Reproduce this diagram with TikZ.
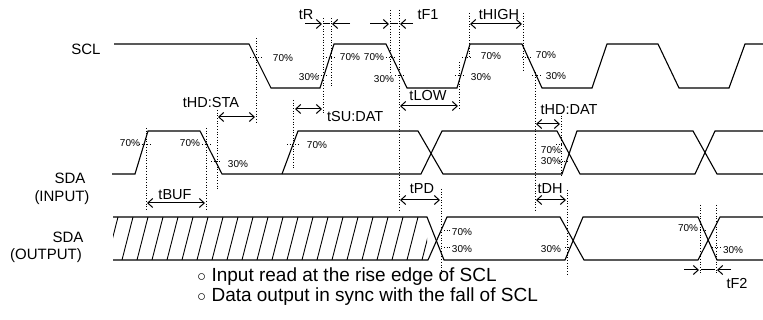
\documentclass[tikz,border=0pt]{standalone}
\usepackage{fontspec}
\setmainfont{Liberation Sans}
\usetikzlibrary{arrows.meta}
\begin{document}
\begin{tikzpicture}[x=1pt,y=-1pt,
  sig/.style={line width=1.1pt, line join=miter},
  guide/.style={dotted, line width=0.7pt},
  tickln/.style={dotted, line width=0.7pt},
  barb/.tip={Straight Barb[length=5pt,width=9pt,line width=1pt]},
  meas/.style={line width=1pt, barb-barb},
  onearr/.style={line width=1pt, -barb},
  lbl/.style={inner sep=0pt, font=\fontsize{14.5}{14.5}\selectfont},
  side/.style={inner sep=0pt, font=\fontsize{15}{15}\selectfont},
  pct/.style={inner sep=0pt, font=\fontsize{10}{10}\selectfont},
  foot/.style={inner sep=0pt, anchor=west, font=\fontsize{19}{19}\selectfont}
]
\useasboundingbox (0,0) rectangle (763,320);

% ---------- side labels ----------
\node[side] (lscl) at (86,49) {SCL};
\node[side] (lsdai) at (70,178) {SDA};
\node[side] (lsdain) at (62,198) {(INPUT)};
\node[side] (lsdao) at (68,237) {SDA};
\node[side] (lsdaon) at (46,256) {(OUTPUT)};

% ---------- SCL ----------
\draw[sig] (114,44) -- (249,44) -- (271,88) -- (320,88) -- (334,44) -- (386,44) -- (407,88)
  -- (457,88) -- (470,44) -- (522,44) -- (542,88) -- (592,88) -- (607,44) -- (658,44)
  -- (679,88) -- (729,88) -- (745,44) -- (763,44);

% ---------- SDA input ----------
\draw[sig] (112,174) -- (135,174) -- (148,131) -- (200,131) -- (222,174) -- (421,174)
  -- (442,131) -- (557,131) -- (580,174) -- (695,174) -- (715,131) -- (763,131);
\draw[sig] (282,174) -- (298,131) -- (418,131) -- (443,174) -- (562,174) -- (577,131)
  -- (693,131) -- (717,174) -- (763,174);

% ---------- SDA output ----------
\draw[sig] (113,217) -- (427,217) -- (444,260) -- (565,260) -- (583,217) -- (698,217)
  -- (717,260) -- (763,260);
\draw[sig] (113,260) -- (428,260) -- (447,217) -- (560,217) -- (584,260) -- (698,260)
  -- (720,217) -- (763,217);
\begin{scope}
  \clip (113,217) rectangle (427,260);
  \foreach \k in {0,...,21} {
    \draw[line width=0.9pt] ({107+15*\k},260) -- ({118+15*\k},217);
  }
\end{scope}

% ---------- vertical guides ----------
\draw[guide] (146,128) -- (146,210);
\draw[guide] (206,128) -- (206,210);
\draw[guide] (217,110) -- (217,190);
\draw[guide] (256,38) -- (256,123);
\draw[guide] (293,100) -- (293,168);
\draw[guide] (323,18) -- (323,113);
\draw[guide] (331,18) -- (331,88);
\draw[guide] (390,10) -- (390,73);
\draw[guide] (399,10) -- (399,210);
\draw[guide] (459,62) -- (459,108);
\draw[guide] (469,13) -- (469,58);
\draw[guide] (523,13) -- (523,70);
\draw[guide] (535,72) -- (535,210);
\draw[guide] (561,113) -- (561,177);
\draw[guide] (567,190) -- (567,275);
\draw[guide] (441,189) -- (441,275);
\draw[guide] (700,205) -- (700,275);
\draw[guide] (716,205) -- (716,275);

% ---------- level ticks ----------
\draw[tickln] (250,57) -- (262,57);
\draw[tickln] (318,75) -- (328,75);
\draw[tickln] (326,57) -- (336,57);
\draw[tickln] (386,57) -- (396,57);
\draw[tickln] (395,75) -- (405,75);
\draw[tickln] (455,75) -- (465,75);
\draw[tickln] (462,57) -- (472,57);
\draw[tickln] (522,57) -- (532,57);
\draw[tickln] (532,75) -- (542,75);
\draw[tickln] (139,144) -- (150,144);
\draw[tickln] (202,144) -- (212,144);
\draw[tickln] (211,161) -- (221,161);
\draw[tickln] (287,144) -- (298,144);
\draw[tickln] (556,144) -- (566,144);
\draw[tickln] (559,161) -- (569,161);
\draw[tickln] (444,230) -- (452,230);
\draw[tickln] (444,247) -- (452,247);
\draw[tickln] (565,247) -- (571,247);
\draw[tickln] (700,230) -- (708,230);
\draw[tickln] (712,247) -- (722,247);

% ---------- percent labels ----------
\node[pct] (p1) at (283,58) {70\%};
\node[pct] (p2) at (309,77) {30\%};
\node[pct] (p3) at (350,57) {70\%};
\node[pct] (p4) at (374,57) {70\%};
\node[pct] (p5) at (384,79) {30\%};
\node[pct] (p6) at (481,77) {30\%};
\node[pct] (p7) at (491,56) {70\%};
\node[pct] (p8) at (546,55) {70\%};
\node[pct] (p9) at (556,76) {30\%};
\node[pct] (p10) at (130,143) {70\%};
\node[pct] (p11) at (190,143) {70\%};
\node[pct] (p12) at (238,164) {30\%};
\node[pct] (p13) at (317,145) {70\%};
\node[pct] (p14) at (551,150) {70\%};
\node[pct] (p15) at (551,161) {30\%};
\node[pct] (p16) at (462,232) {70\%};
\node[pct] (p17) at (462,249) {30\%};
\node[pct] (p18) at (551,249) {30\%};
\node[pct] (p19) at (688,228) {70\%};
\node[pct] (p20) at (733,250) {30\%};

% ---------- measurement arrows ----------
\coordinate (hsa) at (218,117); \coordinate (hsb) at (255,117);
\draw[meas] (hsa) -- (hsb);
\node[lbl] (thdsta) at (211,103) {tHD:STA};

\coordinate (sua) at (295,109); \coordinate (sub) at (322,109);
\draw[meas] (sua) -- (sub);
\node[lbl, anchor=west] (tsudat) at (327,117) {tSU:DAT};

\coordinate (hia) at (470,24); \coordinate (hib) at (522,24);
\draw[meas] (hia) -- (hib);
\node[lbl] (thigh) at (499,15) {tHIGH};

\coordinate (loa) at (400,106); \coordinate (lob) at (458,106);
\draw[meas] (loa) -- (lob);
\node[lbl] (tlow) at (428,96) {tLOW};

\coordinate (hda) at (536,124); \coordinate (hdb) at (560,124);
\draw[meas] (hda) -- (hdb);
\node[lbl] (thddat) at (569,110) {tHD:DAT};

\coordinate (bua) at (147,203); \coordinate (bub) at (205,203);
\draw[meas] (bua) -- (bub);
\node[lbl] (tbuf) at (175,195) {tBUF};

\coordinate (pda) at (400,200); \coordinate (pdb) at (440,200);
\draw[meas] (pda) -- (pdb);
\node[lbl] (tpd) at (422,189) {tPD};

\coordinate (dha) at (536,200); \coordinate (dhb) at (566,200);
\draw[meas] (dha) -- (dhb);
\node[lbl] (tdh) at (550,189) {tDH};

% tR
\coordinate (ra0) at (305,24); \coordinate (ra1) at (322,24);
\coordinate (rb0) at (350,24); \coordinate (rb1) at (332,24);
\draw[onearr] (ra0) -- (ra1);
\draw[onearr] (rb0) -- (rb1);
\draw[line width=1pt] (324,24) -- (330,24);
\node[lbl] (tr) at (306,15) {tR};

% tF1
\coordinate (fa0) at (370,24); \coordinate (fa1) at (389,24);
\coordinate (fb0) at (413,24); \coordinate (fb1) at (400,24);
\draw[onearr] (fa0) -- (fa1);
\draw[onearr] (fb0) -- (fb1);
\draw[line width=1pt] (391,24) -- (398,24);
\node[lbl] (tf1) at (428,15) {tF1};

% tF2
\coordinate (ga0) at (684,270); \coordinate (ga1) at (699,270);
\coordinate (gb0) at (731,270); \coordinate (gb1) at (717,270);
\draw[onearr] (ga0) -- (ga1);
\draw[onearr] (gb0) -- (gb1);
\draw[line width=1pt] (701,270) -- (715,270);
\node[lbl] (tf2) at (737,283) {tF2};

% ---------- footer ----------
\node[foot] (n1) at (197,277) {{\fontsize{15}{15}\selectfont ○} Input read at the rise edge of SCL};
\node[foot] (n2) at (197,297) {{\fontsize{15}{15}\selectfont ○} Data output in sync with the fall of SCL};
\end{tikzpicture}
\end{document}
